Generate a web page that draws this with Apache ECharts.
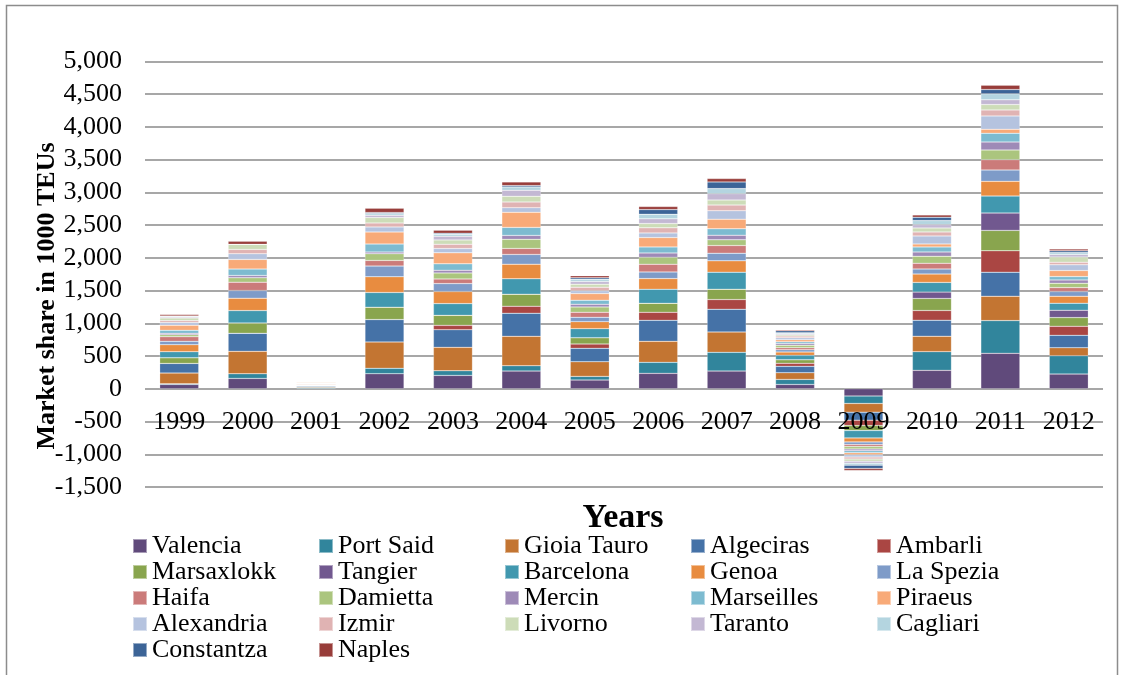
<!DOCTYPE html>
<html>
<head>
<meta charset="utf-8">
<script src="https://cdn.jsdelivr.net/npm/echarts@6/dist/echarts.min.js"></script>
<style>
html,body{margin:0;padding:0;background:#fff;}
#chart{width:1121px;height:675px;}
</style>
</head>
<body>
<div id="chart"></div>
<script>
var years = ['1999','2000','2001','2002','2003','2004','2005','2006','2007','2008','2009','2010','2011','2012'];
var yTicks = [-1500,-1000,-500,0,500,1000,1500,2000,2500,3000,3500,4000,4500,5000];

var Valencia   = [66, 158, 5, 230, 204, 270, 133, 235, 270, 66, -112, 281, 541, 224];
var PortSaid   = [10, 71, 15, 82, 71, 82, 56, 168, 286, 77, -112, 286, 500, 281];
var GioiaTauro = [163, 342, 10, 403, 357, 449, 224, 321, 311, 102, -133, 235, 372, 122];
var Algeciras  = [148, 276, 15, 342, 270, 352, 204, 321, 347, 97, -122, 245, 367, 189];
var Ambarli    = [0, 0, 0, 0, 66, 107, 66, 122, 148, 46, -82, 148, 327, 138];
var Marsaxlokk = [87, 158, 0, 189, 153, 184, 97, 138, 158, 56, -77, 184, 311, 133];
var Tangier    = [0, 0, 0, 0, 0, 0, 0, 0, 0, 0, 0, 97, 265, 112];
var Barcelona  = [92, 189, 10, 224, 179, 235, 138, 214, 260, 66, -112, 148, 260, 107];
var Genoa      = [107, 189, 10, 240, 184, 224, 107, 163, 173, 51, -61, 128, 224, 107];
var LaSpezia   = [51, 117, 5, 163, 122, 148, 66, 102, 117, 36, -41, 77, 173, 71];
var Haifa      = [71, 128, 5, 87, 71, 92, 77, 117, 117, 31, -31, 87, 158, 61];
var Damietta   = [31, 66, 0, 102, 92, 138, 82, 107, 87, 36, -36, 107, 148, 66];
var Mercin     = [20, 36, 0, 26, 41, 61, 41, 66, 71, 26, -26, 66, 122, 51];
var Marseilles = [46, 97, 10, 122, 97, 122, 61, 92, 97, 26, -31, 77, 133, 51];
var Piraeus    = [77, 148, 10, 184, 168, 230, 102, 143, 148, 31, -31, 46, 61, 92];
var Alexandria = [41, 87, 5, 77, 66, 71, 41, 71, 128, 31, -36, 122, 204, 87];
var Izmir      = [31, 66, 5, 61, 66, 87, 56, 77, 87, 26, -31, 61, 92, 41];
var Livorno    = [41, 77, 5, 82, 66, 87, 46, 66, 77, 20, -31, 61, 82, 77];
var Taranto    = [15, 0, 0, 36, 56, 92, 41, 71, 97, 15, -31, 51, 71, 41];
var Cagliari   = [10, 0, 0, 26, 31, 51, 36, 71, 77, 15, -31, 61, 92, 31];
var Constantza = [5, 0, 0, 15, 15, 20, 20, 71, 102, 31, -51, 51, 66, 26];
var Naples     = [20, 46, 0, 66, 46, 56, 31, 46, 51, 15, -31, 36, 66, 26];

var seriesNames = ['Valencia','Port Said','Gioia Tauro','Algeciras','Ambarli','Marsaxlokk','Tangier','Barcelona','Genoa','La Spezia','Haifa','Damietta','Mercin','Marseilles','Piraeus','Alexandria','Izmir','Livorno','Taranto','Cagliari','Constantza','Naples'];
var seriesData = [Valencia, PortSaid, GioiaTauro, Algeciras, Ambarli, Marsaxlokk, Tangier, Barcelona, Genoa, LaSpezia, Haifa, Damietta, Mercin, Marseilles, Piraeus, Alexandria, Izmir, Livorno, Taranto, Cagliari, Constantza, Naples];
var colors = ['#604A7B','#31859C','#C37532','#4572A7','#AA4643','#89A54E','#71588F','#4198AF','#E88C40','#7E9BC8','#CB7B7A','#ABC57E','#9E8AB7','#7DBBD0','#F8AA78','#B5C3DF','#E0B3B3','#CDDCB8','#C3B8D3','#B4D5E0','#3C6497','#983D3A'];

var FONT = "'Liberation Serif','Times New Roman',serif";

var series = seriesNames.map(function(n, i){
  return {
    name: n, type: 'bar', stack: 'total', data: seriesData[i],
    barCategoryGap: '43%',
    itemStyle: { color: colors[i], borderColor: 'rgba(255,255,255,0.45)', borderWidth: 0.5 }
  };
});

var legendCols = [
  ['Valencia','Marsaxlokk','Haifa','Alexandria','Constantza'],
  ['Port Said','Tangier','Damietta','Izmir','Naples'],
  ['Gioia Tauro','Barcelona','Mercin','Livorno'],
  ['Algeciras','Genoa','Marseilles','Taranto'],
  ['Ambarli','La Spezia','Piraeus','Cagliari']
];
var legendX = [132, 318, 504, 690, 876];
var legends = legendCols.map(function(col, i){
  return {
    orient: 'vertical', left: legendX[i], top: 533, padding: 0,
    itemGap: 0, itemWidth: 14, itemHeight: 14, icon: 'rect',
    selectedMode: false,
    data: col,
    textStyle: { fontFamily: FONT, fontSize: 26, color: '#000', lineHeight: 25.8 }
  };
});

function fmt(v){
  var s = Math.abs(v).toString().replace(/\B(?=(\d{3})+(?!\d))/g, ',');
  return (v < 0 ? '-' : '') + s;
}

var GRID_TOP = 61.3, GRID_BOTTOM = 188, H = 675;
var yMin = yTicks[0], yMax = yTicks[yTicks.length-1];
var gridH = H - GRID_TOP - GRID_BOTTOM;
var zeroOffset = -gridH * (0 - yMin) / (yMax - yMin);

var chart = echarts.init(document.getElementById('chart'));
chart.setOption({
  animation: false,
  backgroundColor: '#fff',
  color: colors,
  grid: { left: 145, right: 18, top: GRID_TOP, bottom: GRID_BOTTOM, containLabel: false },
  legend: legends,
  xAxis: {
    type: 'category', data: years, position: 'bottom', offset: zeroOffset, z: 10,
    axisLine: { show: false, onZero: false },
    axisTick: { show: false },
    axisLabel: { fontFamily: FONT, fontSize: 26, color: '#000', margin: 20 },
    splitLine: { show: false }
  },
  yAxis: {
    type: 'value', min: yMin, max: yMax, interval: 500,
    axisLine: { show: false }, axisTick: { show: false },
    axisLabel: { fontFamily: FONT, fontSize: 26, color: '#000', margin: 23, formatter: fmt },
    splitLine: { lineStyle: { color: '#8a8a8a', width: 1.5 } }
  },
  series: series,
  graphic: [
    { type: 'rect', z: -1, shape: { x: 6.5, y: 5.5, width: 1111, height: 700 }, style: { fill: null, stroke: '#8c8c8c', lineWidth: 1.5 } },
    { type: 'text', x: 47, y: 296, rotation: Math.PI/2, style: { text: 'Market share in 1000 TEUs', font: "bold 26px 'Liberation Serif','Times New Roman',serif", fill: '#000', align: 'center', verticalAlign: 'middle' } },
    { type: 'text', x: 623, y: 518, style: { text: 'Years', font: "bold 34px 'Liberation Serif','Times New Roman',serif", fill: '#000', align: 'center', verticalAlign: 'middle' } }
  ]
});
</script>
</body>
</html>
